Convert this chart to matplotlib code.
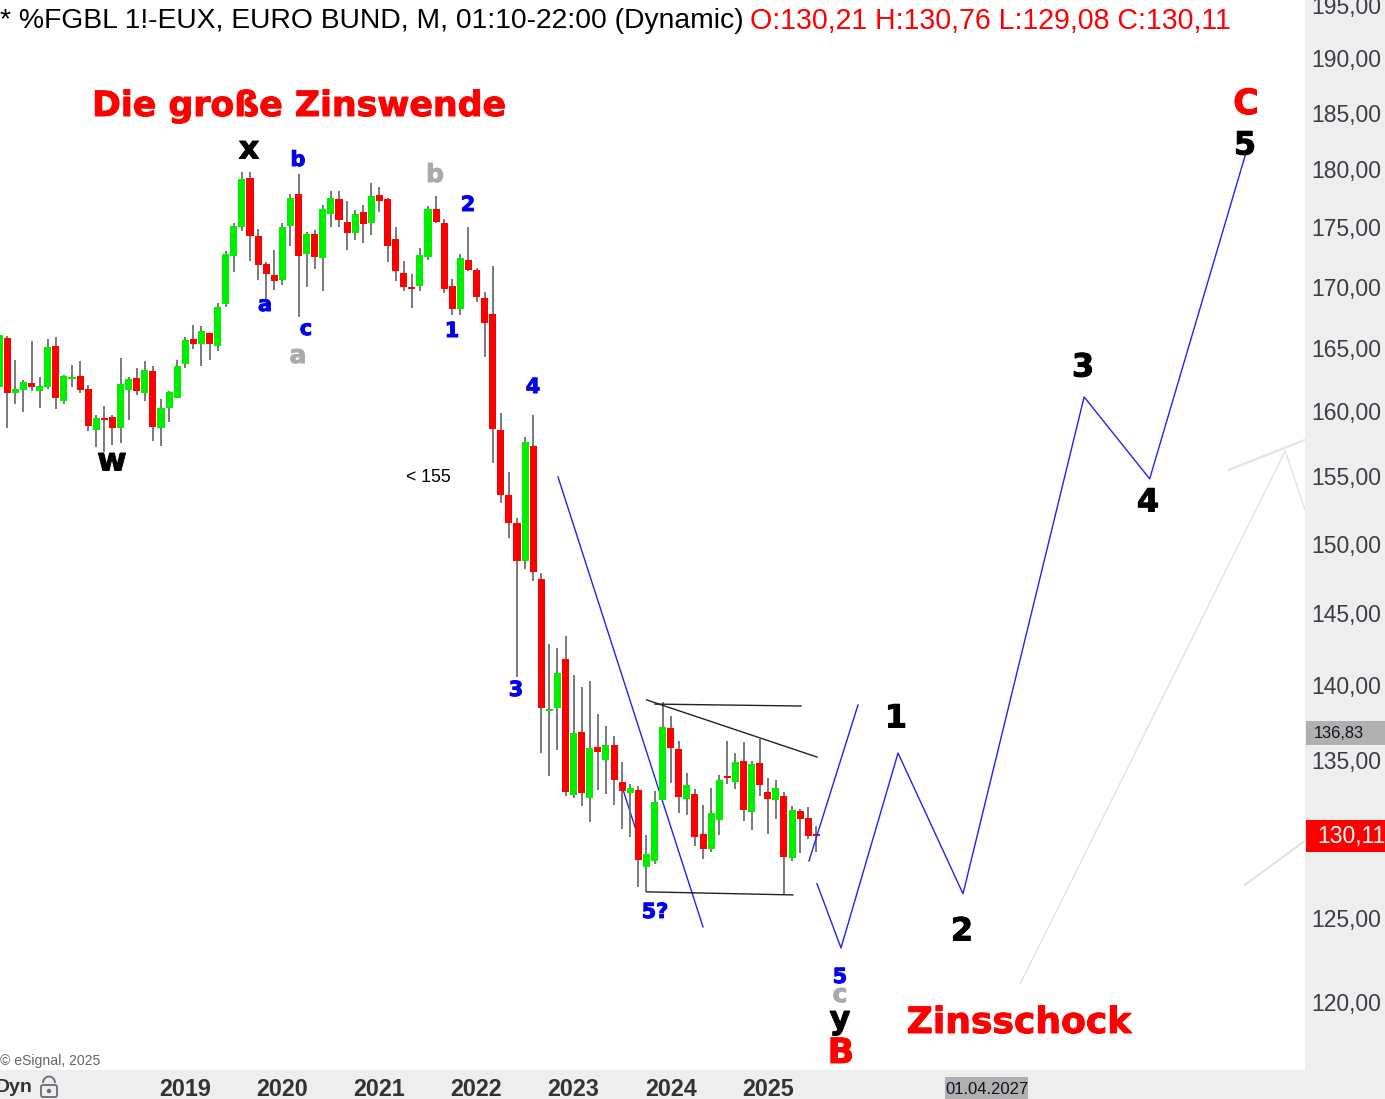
import matplotlib
matplotlib.use('Agg')
from matplotlib import pyplot as plt
from matplotlib import patheffects
from matplotlib.patches import Rectangle, FancyBboxPatch, Arc, Circle

plt.rcParams['font.family'] = ['Liberation Sans', 'DejaVu Sans']

# monthly candles, month 0 = Jan 2019
months = list(range(-23, 79))

opens = [161.90, 165.81, 161.42, 161.66, 162.21, 161.58, 161.90, 165.16, 160.79, 162.53, 162.77, 161.74,
         158.55, 159.47, 159.55, 158.70, 161.66, 162.61, 161.42, 163.17, 158.70, 160.25, 161.03,
         163.72, 165.73, 165.32, 166.21, 165.16, 168.57, 172.56, 175.02, 179.24, 174.25, 171.89, 170.98,
         170.56, 175.11, 177.85, 172.72, 174.42, 172.39, 176.13, 177.41, 175.45, 174.51, 176.30, 175.36,
         177.76, 177.41, 174.00, 171.14, 169.98, 170.06, 172.47, 176.55, 175.36, 170.06, 168.16, 172.22,
         171.39, 169.06, 167.76, 158.55, 153.60, 151.52, 148.74, 157.31, 147.45, 138.27, 138.47, 141.81,
         132.73, 136.87, 132.53, 135.86, 135.01, 136.00, 133.57, 132.86, 133.05, 128.16, 128.53, 132.40,
         137.14, 135.73, 132.46, 132.79, 130.23, 129.28, 131.12, 133.97, 133.57, 134.94, 131.63, 134.81,
         132.92, 132.40, 132.66, 128.72, 131.70, 131.25, 130.21]
closes = [166.05, 161.42, 161.74, 162.29, 161.90, 161.98, 165.08, 161.03, 162.77, 162.69, 161.66, 158.86,
          159.47, 159.32, 158.70, 162.14, 162.53, 161.58, 163.24, 158.78, 160.25, 161.50, 163.56,
          165.64, 165.32, 166.38, 165.32, 168.32, 172.72, 175.11, 179.16, 174.25, 171.81, 171.06, 170.48,
          175.02, 177.50, 172.56, 174.42, 172.47, 176.55, 177.50, 175.62, 174.51, 176.13, 175.28, 177.67,
          177.23, 173.40, 171.31, 169.98, 169.81, 172.64, 176.55, 175.45, 169.81, 168.16, 172.39, 171.39,
          169.15, 167.02, 158.63, 153.60, 151.52, 148.74, 157.62, 147.95, 138.47, 138.40, 140.85, 132.92,
          136.80, 132.86, 135.80, 135.53, 136.00, 133.70, 132.99, 133.18, 128.59, 128.97, 132.27, 137.20,
          135.79, 132.60, 133.38, 130.04, 129.28, 131.57, 133.70, 133.83, 134.88, 131.76, 134.75, 133.38,
          132.46, 133.18, 128.78, 131.76, 131.19, 130.11, 130.11]
highs = [166.10, 165.97, 164.04, 162.45, 165.56, 162.69, 165.73, 165.89, 162.85, 163.64, 163.96, 162.06,
         159.71, 160.40, 159.71, 164.19, 162.69, 163.40, 163.96, 163.56, 160.95, 161.58, 164.04,
         165.89, 166.86, 166.78, 166.21, 168.65, 172.97, 175.36, 179.77, 179.77, 174.85, 172.06, 173.06,
         175.36, 177.85, 179.59, 174.59, 174.76, 176.89, 178.11, 178.11, 177.23, 176.47, 176.89, 178.81,
         178.46, 177.50, 175.02, 172.14, 171.06, 173.23, 176.81, 177.67, 175.70, 170.64, 172.72, 175.02,
         171.56, 169.56, 171.72, 159.86, 155.34, 151.89, 158.01, 159.71, 147.88, 142.85, 142.57, 143.41,
         140.72, 139.90, 140.31, 138.07, 137.27, 136.60, 134.88, 133.44, 133.31, 130.17, 132.99, 138.87,
         137.94, 136.26, 134.16, 133.12, 132.08, 133.18, 134.03, 136.26, 135.46, 136.18, 134.94, 136.40,
         133.83, 133.70, 132.92, 132.02, 131.82, 131.95, 130.76]
lows = [161.85, 158.70, 160.56, 159.94, 161.58, 160.25, 161.74, 160.17, 160.56, 161.90, 161.42, 158.47,
        157.24, 156.85, 157.39, 157.54, 159.32, 161.26, 160.79, 157.70, 157.31, 159.17, 161.03,
        163.40, 164.91, 163.56, 164.04, 164.75, 168.32, 171.23, 174.68, 172.14, 170.56, 168.90, 169.73,
        170.14, 173.40, 167.51, 169.98, 171.48, 169.65, 175.02, 175.02, 173.06, 173.91, 173.66, 174.34,
        176.30, 172.06, 170.48, 169.65, 168.24, 169.65, 172.22, 175.36, 169.48, 167.67, 167.67, 171.31,
        168.73, 164.27, 156.02, 152.99, 150.42, 140.58, 148.17, 147.31, 135.46, 133.97, 135.66, 132.66,
        132.53, 132.02, 131.00, 133.05, 132.79, 132.08, 130.55, 130.04, 126.92, 126.61, 128.35, 132.40,
        133.51, 131.57, 131.44, 129.47, 128.66, 129.09, 130.17, 133.44, 133.12, 131.06, 130.49, 132.66,
        130.23, 131.19, 126.49, 128.53, 129.03, 129.92, 129.08]

year_ticks = [0, 12, 24, 36, 48, 60, 72]
year_labels = ['2019', '2020', '2021', '2022', '2023', '2024', '2025']
price_ticks = [120, 125, 130, 135, 140, 145, 150, 155, 160, 165, 170, 175, 180, 185, 190, 195]
price_labels = ['%d,00' % p for p in price_ticks]

# drawn lines as (months, prices)
down_m = [46.07, 63.99]
down_p = [154.96, 124.47]
small_m = [53.96, 55.7]
small_p = [133.31, 130.49]
up_m = [77.09, 83.15]
up_p = [128.53, 138.67]
wave_m = [78.08, 81.05, 88.1, 96.13, 111.1, 119.2, 131.2]
wave_p = [127.11, 123.20, 135.46, 126.49, 161.11, 154.81, 181.68]
grey1_m = [103.2, 135.96, 138.4]
grey1_p = [121.06, 156.93, 152.48]
grey2_m = [129.0, 138.4]
grey2_p = [155.49, 157.78]
grey3_m = [131.0, 138.4]
grey3_p = [127.05, 129.8]
tri_top_m = [57.03, 78.08]
tri_top_p = [139.01, 135.2]
flat_top_m = [58.06, 76.1]
flat_top_p = [138.73, 138.60]
flat_low_m = [57.03, 75.1]
flat_low_p = [126.61, 126.42]

W, H = 1385, 1099
fig = plt.figure(figsize=(13.85, 10.99), dpi=100, facecolor='white')

# grey side and bottom panels
fig.add_artist(Rectangle((1305 / W, 0), 80 / W, 1, color='#eeeeee', lw=0, zorder=-1))
fig.add_artist(Rectangle((0, 0), 1, 29 / H, color='#eeeeee', lw=0, zorder=-1))

ax = fig.add_axes([0, 29 / H, 1305 / W, 1070 / H])
ax.patch.set_alpha(0)
ax.set_yscale('log')
ax.set_xlim(-22.9, 138.4)
ax.set_ylim(116.09, 195.46)
for s in ax.spines.values():
    s.set_visible(False)
ax.yaxis.tick_right()
ax.set_yticks(price_ticks)
ax.set_yticklabels(price_labels, fontsize=16.5, color='#3c3c46')
ax.set_xticks(year_ticks)
ax.set_xticklabels(year_labels, fontsize=16.8, fontweight='bold', color='#333333')
ax.tick_params(axis='y', length=0, pad=4.3)
ax.tick_params(axis='x', length=0, pad=6)
ax.minorticks_off()

# helper lines, below the candles
blue = '#2222ee'
ax.plot(down_m, down_p, color=blue, lw=1.0, zorder=1)
ax.plot(small_m, small_p, color=blue, lw=1.0, zorder=1)
ax.plot(up_m, up_p, color=blue, lw=1.0, zorder=4)
ax.plot(wave_m, wave_p, color=blue, lw=1.0, zorder=4)
ax.plot(grey1_m, grey1_p, color='#e2e2e2', lw=1.0, zorder=1)
ax.plot(grey2_m, grey2_p, color='#e2e2e2', lw=1.5, zorder=1)
ax.plot(grey3_m, grey3_p, color='#e2e2e2', lw=1.5, zorder=1)
ax.plot(tri_top_m, tri_top_p, color='#222222', lw=1.0, zorder=4)
ax.plot(flat_top_m, flat_top_p, color='#222222', lw=1.0, zorder=4)
ax.plot(flat_low_m, flat_low_p, color='#222222', lw=1.0, zorder=4)

# candles
for i in range(len(months)):
    col = '#00ee00' if closes[i] >= opens[i] else '#ff0000'
    ax.vlines(months[i], lows[i], highs[i], color='#6a6a6a', lw=1.25, zorder=2)
    low_body = min(opens[i], closes[i])
    high_body = max(opens[i], closes[i])
    ax.bar(months[i], high_body - low_body, bottom=low_body, width=0.87, color=col, lw=0, zorder=3)

# overlay in pixels for labels and tags
top = fig.add_axes([0, 0, 1, 1], zorder=5)
top.patch.set_alpha(0)
top.set_xlim(0, W)
top.set_ylim(H, 0)
top.axis('off')


def label(x, y, s, color, size):
    # the original labels are heavier than DejaVu bold, so thicken them a bit
    t = top.text(x, y + 2, s, color=color, fontsize=size, fontweight='bold', family='DejaVu Sans',
                 ha='center', va='center')
    t.set_path_effects([patheffects.withStroke(linewidth=0.7, foreground=color)])


top.text(0, 21, '* %FGBL 1!-EUX, EURO BUND, M, 01:10-22:00 (Dynamic)', fontsize=20.33, color='black', va='center')
top.text(750, 21, 'O:130,21 H:130,76 L:129,08 C:130,11', fontsize=20.55, color='#ff0000', va='center')

label(299, 104, 'Die große Zinswende', '#ff0000', 25)
label(1019, 1021, 'Zinsschock', '#ff0000', 26)

label(249, 148, 'x', 'black', 23)
label(112, 460, 'w', 'black', 23)
label(840, 1018, 'y', 'black', 23)
label(896, 717, '1', 'black', 23)
label(962, 930, '2', 'black', 23)
label(1083, 366, '3', 'black', 23)
label(1148, 501, '4', 'black', 23)
label(1245, 144, '5', 'black', 23)
label(1246, 102, 'C', '#ff0000', 25)
label(841, 1051, 'B', '#ff0000', 25)

label(298, 158, 'b', '#0000ee', 15)
label(265, 303, 'a', '#0000ee', 15)
label(306, 327, 'c', '#0000ee', 15)
label(468, 203, '2', '#0000ee', 15)
label(452, 329, '1', '#0000ee', 15)
label(533, 385, '4', '#0000ee', 15)
label(516, 688, '3', '#0000ee', 15)
label(655, 910, '5?', '#0000ee', 15)
label(840, 975, '5', '#0000ee', 15)

label(298, 354, 'a', '#aaaaaa', 18)
label(435, 173, 'b', '#aaaaaa', 18)
label(840, 993, 'c', '#aaaaaa', 18)

top.text(428, 477, '< 155', color='black', fontsize=12.7, ha='center', va='center')

# price tags
top.add_patch(Rectangle((1306, 721), 79, 24, color='#b0b0b0', lw=0))
top.text(1314, 734, '136,83', fontsize=11.8, color='#111122', va='center')
top.add_patch(Rectangle((1306, 820), 79, 32, color='#ff0000', lw=0))
top.text(1317, 837, '130,11', fontsize=16.5, color='white', va='center')

# bottom bar
top.text(0, 1061, '© eSignal, 2025', fontsize=10.1, color='#666666', va='center')
top.text(-4, 1088, 'Dyn', fontsize=14, fontweight='bold', color='#333333', va='center')
top.add_patch(Rectangle((945, 1077), 83, 22, color='#b0b0b0', lw=0))
top.text(986.5, 1090, '01.04.2027', fontsize=12, color='#111122', ha='center', va='center')

# lock icon
lock = '#6a6a78'
top.add_patch(FancyBboxPatch((41, 1085), 16, 12, boxstyle='round,pad=0,rounding_size=2', fc='#eeeeee', ec=lock, lw=1.3))
top.add_patch(Arc((49, 1083), 12, 13, theta1=180, theta2=360, ec=lock, lw=1.3))
top.add_patch(Circle((49, 1091), 1.5, color=lock))

plt.savefig('out.png', dpi=100)
